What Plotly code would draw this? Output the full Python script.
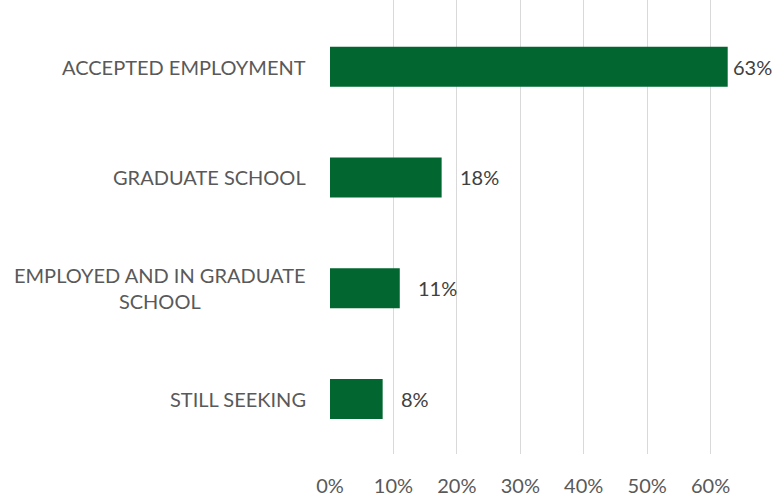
import plotly.graph_objects as go

categories = ["ACCEPTED EMPLOYMENT", "GRADUATE SCHOOL", "EMPLOYED AND IN GRADUATE<br>SCHOOL", "STILL SEEKING"]
values = [0.627, 0.176, 0.11, 0.083]
labels = ["63%", "18%", "11%", "8%"]
tick_vals = [0, 0.1, 0.2, 0.3, 0.4, 0.5, 0.6]
tick_text = ["0%", "10%", "20%", "30%", "40%", "50%", "60%"]

FONT = "Lato, Carlito, Calibri, sans-serif"
GRAY = "#595959"
GREEN = "#01662F"

idx = list(range(len(categories)))

fig = go.Figure(go.Bar(
    x=values, y=idx, orientation="h",
    marker=dict(color=GREEN, line=dict(width=0)),
    width=0.36, hoverinfo="skip",
))

annotations = []
for i, (cat, v, lab) in enumerate(zip(categories, values, labels)):
    annotations.append(dict(
        x=-0.05, xref="paper", y=i, yref="y", text=cat, showarrow=False,
        xanchor="right", align="center", font=dict(family=FONT, size=20, color=GRAY)))
    if v > 0.6:
        annotations.append(dict(
            x=1, xref="paper", y=i, yref="y", text=lab, showarrow=False,
            xanchor="right", font=dict(family=FONT, size=20, color="#404040")))
    else:
        annotations.append(dict(
            x=v, xref="x", y=i, yref="y", text=lab, showarrow=False,
            xanchor="left", xshift=16, font=dict(family=FONT, size=20, color="#404040")))

fig.update_layout(
    width=774, height=497,
    margin=dict(l=330, r=0, t=0, b=43),
    paper_bgcolor="white", plot_bgcolor="white",
    showlegend=False,
    annotations=annotations,
    font=dict(family=FONT, size=20, color=GRAY),
)
fig.update_xaxes(
    range=[0, 0.7], tickvals=tick_vals, ticktext=tick_text,
    showgrid=True, gridcolor="#d9d9d9", gridwidth=1,
    zeroline=False, showline=False, ticks="",
    ticklabelstandoff=18,
    tickfont=dict(family=FONT, size=20, color=GRAY),
)
fig.update_yaxes(
    range=[3.496, -0.602], showticklabels=False, showgrid=False,
    zeroline=False, showline=False, ticks="",
)
fig.write_html("out.html", config={"displayModeBar": False},
               post_script="document.body.style.margin='0';document.body.style.overflow='hidden';")
